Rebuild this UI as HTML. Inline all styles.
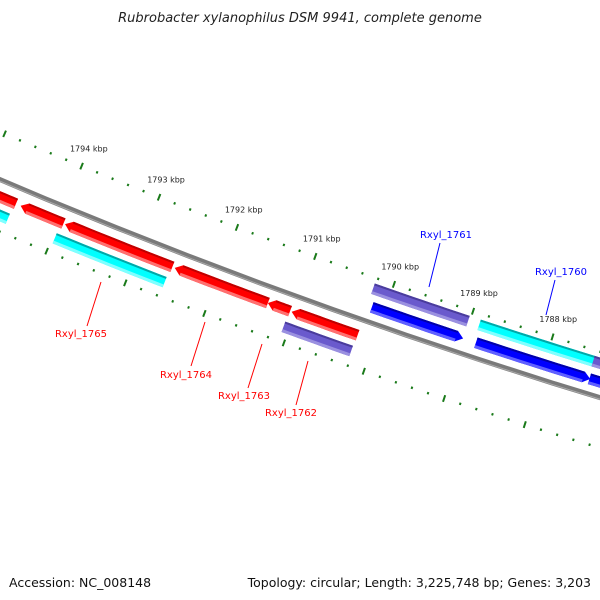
<!DOCTYPE html>
<html><head><meta charset="utf-8"><style>
body{margin:0;background:#fff}
svg{display:block;font-family:"DejaVu Sans","Liberation Sans",sans-serif}
</style></head><body>
<svg id="map" width="600" height="600" viewBox="0 0 600 600">
<text x="300" y="22" text-anchor="middle" font-size="13" font-style="italic" fill="#222">Rubrobacter xylanophilus DSM 9941, complete genome</text>
<text x="9" y="587" font-size="12.5" fill="#111">Accession: NC_008148</text>
<text x="591" y="587" text-anchor="end" font-size="12.5" fill="#111">Topology: circular; Length: 3,225,748 bp; Genes: 3,203</text>
<g id="g"></g>
</svg>
<script>
// data (kbp)
const tickStart = 1785, tickEnd = 1797, tickStep = 0.2;
const majorLabels = [1788, 1789, 1790, 1791, 1792, 1793, 1794];
const geneStarts = [1794.55, 1793.94, 1792.55, 1791.34, 1791.06, 1790.21, 1795.2, 1793.97, 1791.07, 1790.16, 1788.85, 1787.43, 1790.22, 1788.88, 1787.45];
const geneEnds   = [1795.3, 1794.49, 1793.92, 1792.52, 1791.34, 1791.04, 1794.57, 1792.57, 1790.22, 1789.01, 1787.42, 1786.5, 1789.02, 1787.43, 1786.5];
const geneTracks = ['r1','r1','r1','r1','r1','r1','r2','r2','r2','f1','f1','f1','f2','f2','f2'];
const geneKinds  = ['red','red','red','red','red','red','cyan','cyan','purple','blue','blue','blue','purple','cyan','purple'];
const labelNames = ['Rxyl_1765','Rxyl_1764','Rxyl_1763','Rxyl_1762','Rxyl_1761','Rxyl_1760'];

const CX = 2355, CY = -5366, R0 = 6025;
const trackR = {f2: 5992, f1: 6010, r1: 6041, r2: 6058};
function ang(k){ return (112.34 + (k - 1794) * 0.8) * Math.PI / 180; }
function P(r, k){ const a = ang(k); return [CX + r*Math.cos(a), CY + r*Math.sin(a)]; }
const NS = 'http://www.w3.org/2000/svg';
const g = document.getElementById('g');
function mk(t, attrs){ const e = document.createElementNS(NS, t); for (const k in attrs) e.setAttribute(k, attrs[k]); g.appendChild(e); return e; }
function arcPts(r, k1, k2){ const pts=[]; for(let i=0;i<=12;i++){ pts.push(P(r, k1+(k2-k1)*i/12)); } return pts; }
function pstr(pts){ return pts.map(p=>p[0].toFixed(2)+','+p[1].toFixed(2)).join(' '); }

// backbone
let e = mk('polyline', {points: pstr(arcPts(R0, 1786, 1797)), fill:'none', stroke:'#7a7a7a', 'stroke-width':5});


e = mk('polyline', {points: pstr(arcPts(R0+1.5, 1786, 1797)), fill:'none', stroke:'#a8a8a8', 'stroke-width':1});



// ticks
for (let k = tickStart; k <= tickEnd + 1e-6; k += tickStep) {
  const kk = Math.round(k*10)/10;
  const major = Math.abs(kk - Math.round(kk)) < 1e-6;
  const len = major ? 3.5 : 1.2;
  [5981, 6073].forEach((r) => {
    const a = P(r - len, kk), b = P(r + len, kk);
    const t = mk('line', {x1:a[0], y1:a[1], x2:b[0], y2:b[1], stroke:'#1a7a1a', 'stroke-width':2});
    
    
  });
}
majorLabels.forEach(k => {
  const p = P(5962, k);
  const t = mk('text', {x:p[0], y:p[1]+3, 'text-anchor':'middle', 'font-size':8, fill:'#222'});
  t.textContent = k + ' kbp';
  
  
});

// genes
const colors = {
  red:   ['#ff0000', '#c00000', '#ff7070'],
  cyan:  ['#00ffff', '#00a8a8', '#80ffff'],
  purple:['#6a5acd', '#4a3c9c', '#9a90e0'],
  blue:  ['#0000ff', '#0000a8', '#6060ff']
};
const H = 11;
geneStarts.forEach((s, i) => {
  const en = geneEnds[i], tr = geneTracks[i], r = trackR[tr], c = colors[geneKinds[i]];
  const arrow = tr === 'f1' || tr === 'r1';
  const dir = en > s ? 1 : -1;
  const al = arrow ? 0.085 : 0;
  const bodyEnd = en - dir*al;
  const inner = arcPts(r - H/2, s, bodyEnd);
  const outer = arcPts(r + H/2, s, bodyEnd).reverse();
  let pts = inner.slice();
  if (arrow) pts.push(P(r, en));
  pts = pts.concat(outer);
  const grp = document.createElementNS(NS, 'g');
  
  
  g.appendChild(grp);
  const body = document.createElementNS(NS, 'polygon');
  body.setAttribute('points', pstr(pts)); body.setAttribute('fill', c[0]);
  grp.appendChild(body);
  const top = document.createElementNS(NS, 'polyline');
  top.setAttribute('points', pstr(arcPts(r - H/2 + 1, s, bodyEnd)));
  top.setAttribute('stroke', c[1]); top.setAttribute('stroke-width', 2); top.setAttribute('fill', 'none');
  grp.appendChild(top);
  const bot = document.createElementNS(NS, 'polyline');
  bot.setAttribute('points', pstr(arcPts(r + H/2 - 1.5, s, bodyEnd)));
  bot.setAttribute('stroke', c[2]); bot.setAttribute('stroke-width', 3); bot.setAttribute('fill', 'none');
  grp.appendChild(bot);
});

// gene labels
const labelColor = ['red','red','red','red','blue','blue'];
const lx = [81, 186, 244, 291, 446, 561], ly = [337, 378, 399, 416, 238, 275];
const l1x = [101, 205, 262, 308, 440, 555], l1y = [282, 322, 344, 361, 243, 280];
const l2x = [87, 191, 248, 296, 429, 546], l2y = [326, 366, 388, 405, 287, 315];
labelNames.forEach((n, i) => {
  const col = labelColor[i] === 'red' ? '#ff0000' : '#0000ff';
  const ln = mk('line', {x1:l1x[i], y1:l1y[i], x2:l2x[i], y2:l2y[i], stroke:col, 'stroke-width':1});
  
  
  const t = mk('text', {x:lx[i], y:ly[i], 'text-anchor':'middle', 'font-size':10, fill:col});
  t.textContent = n;
  
  
});
</script>
</body></html>
